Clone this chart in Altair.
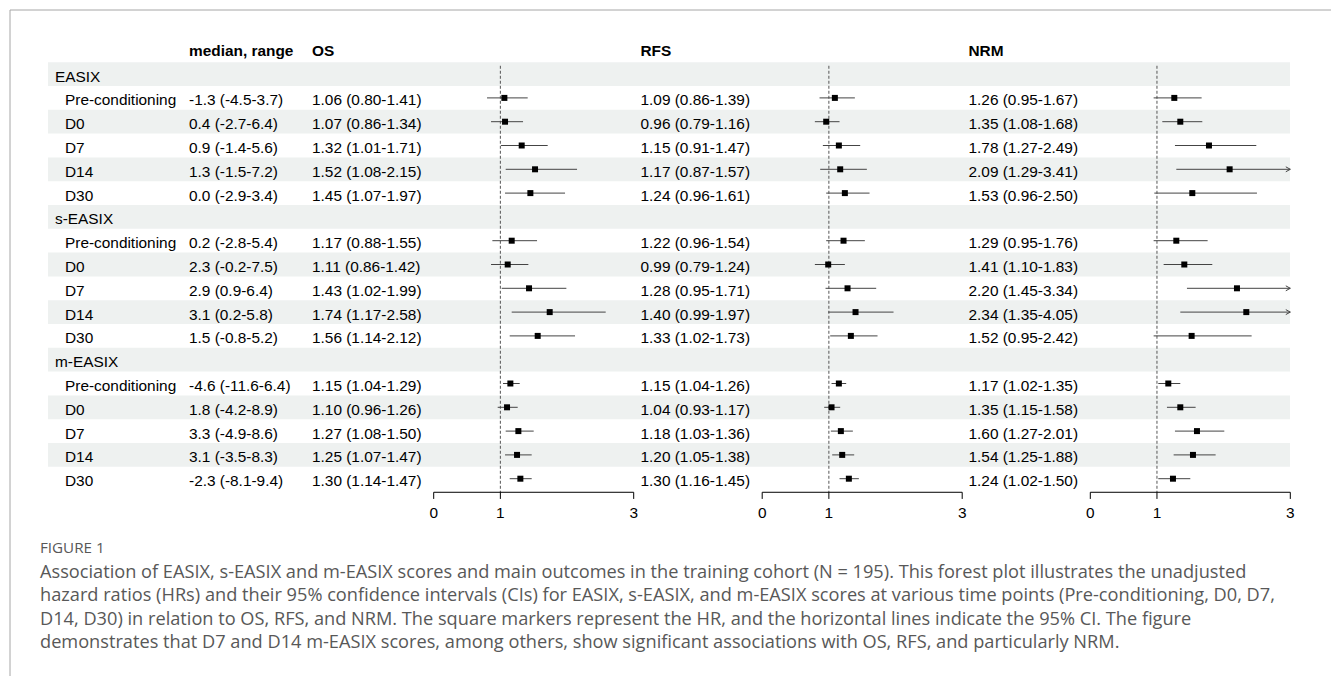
import altair as alt
import pandas as pd

# ---------------- data ----------------
groups = ["EASIX", "s-EASIX", "m-EASIX"]
timepoints = ["Pre-conditioning", "D0", "D7", "D14", "D30"]
medians = ["-1.3 (-4.5-3.7)", "0.4 (-2.7-6.4)", "0.9 (-1.4-5.6)", "1.3 (-1.5-7.2)", "0.0 (-2.9-3.4)",
           "0.2 (-2.8-5.4)", "2.3 (-0.2-7.5)", "2.9 (0.9-6.4)", "3.1 (0.2-5.8)", "1.5 (-0.8-5.2)",
           "-4.6 (-11.6-6.4)", "1.8 (-4.2-8.9)", "3.3 (-4.9-8.6)", "3.1 (-3.5-8.3)", "-2.3 (-8.1-9.4)"]
os_hr = [1.06, 1.07, 1.32, 1.52, 1.45, 1.17, 1.11, 1.43, 1.74, 1.56, 1.15, 1.10, 1.27, 1.25, 1.30]
os_lo = [0.80, 0.86, 1.01, 1.08, 1.07, 0.88, 0.86, 1.02, 1.17, 1.14, 1.04, 0.96, 1.08, 1.07, 1.14]
os_hi = [1.41, 1.34, 1.71, 2.15, 1.97, 1.55, 1.42, 1.99, 2.58, 2.12, 1.29, 1.26, 1.50, 1.47, 1.47]
rfs_hr = [1.09, 0.96, 1.15, 1.17, 1.24, 1.22, 0.99, 1.28, 1.40, 1.33, 1.15, 1.04, 1.18, 1.20, 1.30]
rfs_lo = [0.86, 0.79, 0.91, 0.87, 0.96, 0.96, 0.79, 0.95, 0.99, 1.02, 1.04, 0.93, 1.03, 1.05, 1.16]
rfs_hi = [1.39, 1.16, 1.47, 1.57, 1.61, 1.54, 1.24, 1.71, 1.97, 1.73, 1.26, 1.17, 1.36, 1.38, 1.45]
nrm_hr = [1.26, 1.35, 1.78, 2.09, 1.53, 1.29, 1.41, 2.20, 2.34, 1.52, 1.17, 1.35, 1.60, 1.54, 1.24]
nrm_lo = [0.95, 1.08, 1.27, 1.29, 0.96, 0.95, 1.10, 1.45, 1.35, 0.95, 1.02, 1.15, 1.27, 1.25, 1.02]
nrm_hi = [1.67, 1.68, 2.49, 3.41, 2.50, 1.76, 1.83, 3.34, 4.05, 2.42, 1.35, 1.58, 2.01, 1.88, 1.50]
axis_ticks = [0, 1, 3]
axis_max = 3
ref_value = [1]
headers = ["median, range", "OS", "RFS", "NRM"]
caption_title = "FIGURE 1"
caption_lines = [
    "Association of EASIX, s-EASIX and m-EASIX scores and main outcomes in the training cohort (N = 195). This forest plot illustrates the unadjusted",
    "hazard ratios (HRs) and their 95% confidence intervals (CIs) for EASIX, s-EASIX, and m-EASIX scores at various time points (Pre-conditioning, D0, D7,",
    "D14, D30) in relation to OS, RFS, and NRM. The square markers represent the HR, and the horizontal lines indicate the 95% CI. The figure",
    "demonstrates that D7 and D14 m-EASIX scores, among others, show significant associations with OS, RFS, and particularly NRM.",
]

# ---------------- tables ----------------
row_recs = []
item_recs = []
k = 0
for g, grp in enumerate(groups):
    base = g * (len(timepoints) + 1)
    row_recs.append({"row": base, "label": grp, "kind": "group"})
    for t, tp in enumerate(timepoints):
        r = base + 1 + t
        row_recs.append({"row": r, "label": tp, "kind": "item"})
        item_recs.append({
            "row": r, "median": medians[k],
            "os_hr": os_hr[k], "os_lo": os_lo[k], "os_hi": os_hi[k],
            "rfs_hr": rfs_hr[k], "rfs_lo": rfs_lo[k], "rfs_hi": rfs_hi[k],
            "nrm_hr": nrm_hr[k], "nrm_lo": nrm_lo[k], "nrm_hi": nrm_hi[k],
        })
        k += 1
rows = pd.DataFrame(row_recs)
items = pd.DataFrame(item_recs)
for p in ["os", "rfs", "nrm"]:
    items[p + "_txt"] = [f"{h:.2f} ({l:.2f}-{u:.2f})" for h, l, u in
                         zip(items[p + "_hr"], items[p + "_lo"], items[p + "_hi"])]
    items[p + "_hic"] = items[p + "_hi"].clip(upper=axis_max)
    items[p + "_arrow"] = (items[p + "_hi"] > axis_max).astype(int)
    items[p + "_cap"] = axis_max

ticks_df = pd.DataFrame({"t": axis_ticks, "lab": [str(t) for t in axis_ticks]})
ref_df = pd.DataFrame({"ref": ref_value})
hdr_df = pd.DataFrame({"row": [-1], "h0": [headers[0]], "h1": [headers[1]],
                       "h2": [headers[2]], "h3": [headers[3]]})
cap_df = pd.DataFrame({"title": [caption_title], "body": ["\n".join(caption_lines)]})
one = pd.DataFrame({"a": [0]})

# ---------------- scales ----------------
yscale = alt.Scale(domain=[-1.5, 17.5], range=[38.4, 490.6])
Y = alt.Y("row:Q", scale=yscale, axis=None)
HIDDEN = alt.Axis(domain=False, ticks=False, labels=False, grid=False, title="")

FONT = "Liberation Sans"
FS = 15.4
CAP_FONT = "Open Sans"
CAP_COLOR = "#585858"

# border
border_v = alt.Chart(one).mark_rule(color="#a6a6a6", strokeWidth=1).encode(
    x=alt.value(10), y=alt.value(10), y2=alt.value(676))
border_h = alt.Chart(one).mark_rule(color="#a6a6a6", strokeWidth=1).encode(
    x=alt.value(10), x2=alt.value(1331), y=alt.value(10))

# shaded bands (every other row)
bands = alt.Chart(rows).transform_filter("datum.row % 2 == 0").transform_calculate(
    top="datum.row - 0.5", bot="datum.row + 0.5"
).mark_rect(color="#eef1f0").encode(
    x=alt.value(48), x2=alt.value(1290),
    y=alt.Y("top:Q", scale=yscale, axis=None), y2="bot:Q")


def txt(df, field, xpx, dy=7.5, bold=False, flt=None):
    c = alt.Chart(df)
    if flt:
        c = c.transform_filter(flt)
    return c.mark_text(align="left", baseline="alphabetic", dy=dy, font=FONT, fontSize=FS,
                       fontWeight="bold" if bold else "normal", color="black").encode(
        x=alt.value(xpx), y=Y, text=f"{field}:N")


texts = [
    txt(rows, "label", 55, flt="datum.kind == 'group'"),
    txt(rows, "label", 65, flt="datum.kind == 'item'"),
    txt(items, "median", 189),
    txt(items, "os_txt", 312),
    txt(items, "rfs_txt", 640.5),
    txt(items, "nrm_txt", 968.5),
    txt(hdr_df, "h0", 189, dy=5.7, bold=True),
    txt(hdr_df, "h1", 312, dy=5.7, bold=True),
    txt(hdr_df, "h2", 640.5, dy=5.7, bold=True),
    txt(hdr_df, "h3", 968.5, dy=5.7, bold=True),
]

AXIS_Y = 17.57
ARROW = "M-1,-0.55L0,0L-1,0.55"


def forest(p, rng):
    xs = alt.Scale(domain=[0, axis_max], range=rng)
    ref = alt.Chart(ref_df).transform_calculate(y0="-0.35", y1=str(AXIS_Y)).mark_rule(
        color="#555555", strokeDash=[3, 2], strokeWidth=1).encode(
        x=alt.X("ref:Q", scale=xs, axis=HIDDEN),
        y=alt.Y("y0:Q", scale=yscale, axis=None), y2="y1:Q")
    ci = alt.Chart(items).mark_rule(color="#444444", strokeWidth=1).encode(
        x=alt.X(f"{p}_lo:Q", scale=xs, axis=HIDDEN), x2=f"{p}_hic:Q", y=Y)
    arr = alt.Chart(items).transform_filter(f"datum.{p}_arrow == 1").mark_point(
        shape=ARROW, filled=False, stroke="#444444", strokeWidth=1, size=81, opacity=1).encode(
        x=alt.X(f"{p}_cap:Q", scale=xs, axis=HIDDEN), y=Y)
    pt = alt.Chart(items).mark_square(size=36, color="black", opacity=1).encode(
        x=alt.X(f"{p}_hr:Q", scale=xs, axis=HIDDEN), y=Y)
    axline = alt.Chart(ticks_df).transform_aggregate(lo="min(t)", hi="max(t)").transform_calculate(
        ya=str(AXIS_Y)).mark_rule(color="black", strokeWidth=1).encode(
        x=alt.X("lo:Q", scale=xs, axis=HIDDEN), x2="hi:Q",
        y=alt.Y("ya:Q", scale=yscale, axis=None))
    tk = alt.Chart(ticks_df).transform_calculate(ya=str(AXIS_Y), yb=str(AXIS_Y + 0.28)).mark_rule(
        color="black", strokeWidth=1).encode(
        x=alt.X("t:Q", scale=xs, axis=HIDDEN),
        y=alt.Y("ya:Q", scale=yscale, axis=None), y2="yb:Q")
    lab = alt.Chart(ticks_df).transform_calculate(ya=str(AXIS_Y)).mark_text(
        font=FONT, fontSize=FS, baseline="alphabetic", align="center", color="black", dy=25.7).encode(
        x=alt.X("t:Q", scale=xs, axis=HIDDEN), y=alt.Y("ya:Q", scale=yscale, axis=None),
        text="lab:N")
    return [ref, ci, arr, pt, axline, tk, lab]


forests = (forest("os", [433.7, 633.7]) + forest("rfs", [762.2, 962.2])
           + forest("nrm", [1090.3, 1290.3]))

cap_title = alt.Chart(cap_df).mark_text(align="left", baseline="alphabetic", font=CAP_FONT,
                                        fontSize=15.2, color=CAP_COLOR).encode(
    x=alt.value(40), y=alt.value(552.5), text="title:N")
cap_body = alt.Chart(cap_df).mark_text(align="left", baseline="alphabetic", font=CAP_FONT,
                                       fontSize=18.2, color=CAP_COLOR, lineBreak="\n",
                                       lineHeight=23.6).encode(
    x=alt.value(40), y=alt.value(577.5), text="body:N")

chart = alt.layer(
    border_v, border_h, bands, *texts, *forests, cap_title, cap_body
).resolve_scale(x="independent").properties(
    width=1331, height=676, padding=0,
    autosize=alt.AutoSizeParams(type="none"),
).configure_view(stroke=None)

chart.save("out.html", embed_options={"renderer": "svg", "actions": False})
